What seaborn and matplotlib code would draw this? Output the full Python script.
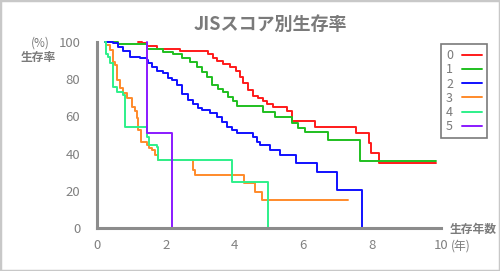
import pandas as pd
import seaborn as sns
from matplotlib import pyplot as plt

# JIS score groups
groups = ['0', '1', '2', '3', '4', '5']
colors = ['#ff1a1a', '#1fbf1f', '#1010ff', '#ff8a2a', '#2ef08a', '#8a1aff']

# survival curves (years, %)
t0 = [1.19, 1.31, 1.45, 1.74, 2.41, 3.23, 3.37, 3.49, 3.66, 3.87, 4.04, 4.16, 4.24, 4.39, 4.53,
      4.68, 4.83, 4.94, 5.12, 5.52, 5.66, 6.34, 7.53, 7.91, 7.97, 8.20, 9.85]
s0 = [100, 99.2, 97.8, 96.2, 95.2, 93.5, 91.4, 89.8, 88.2, 86.6, 84.4, 81.2, 78.0, 74.2, 71.0,
      69.9, 68.3, 66.7, 65.0, 62.9, 57.5, 54.3, 51.1, 45.7, 40.3, 34.9, 34.9]

t1 = [0.23, 0.61, 1.45, 1.92, 2.21, 2.47, 2.70, 2.91, 3.05, 3.20, 3.34, 3.52, 3.66, 3.81, 3.95,
      4.07, 4.83, 5.17, 5.67, 5.84, 6.05, 6.72, 7.65, 9.85]
s1 = [100, 98.9, 96.2, 94.6, 93.5, 91.4, 89.2, 86.6, 83.9, 81.2, 76.9, 74.7, 73.1, 70.4, 68.3,
      65.6, 62.4, 59.7, 56.5, 53.8, 51.6, 47.3, 36.0, 36.0]

t2 = [0.23, 0.47, 0.61, 0.76, 0.96, 1.25, 1.45, 1.48, 1.60, 1.74, 1.92, 2.06, 2.18, 2.33, 2.47,
      2.65, 2.79, 2.94, 3.05, 3.28, 3.49, 3.63, 3.78, 3.92, 4.07, 4.53, 4.65, 4.74, 5.03, 5.32,
      5.78, 6.40, 6.98, 7.70]
s2 = [100, 99.3, 97.5, 95.3, 92.1, 91.2, 90.3, 88.7, 86.6, 84.4, 83.3, 80.6, 79.6, 76.9, 72.0,
      68.8, 66.7, 64.5, 63.4, 61.8, 59.7, 57.0, 54.3, 52.7, 51.1, 48.9, 46.2, 44.6, 41.9, 39.2,
      34.9, 30.1, 20.4, 0]

t3 = [0.29, 0.38, 0.47, 0.52, 0.58, 0.67, 0.76, 0.87, 1.02, 1.10, 1.16, 1.19, 1.28, 1.45, 1.51,
      1.60, 1.69, 1.77, 2.79, 2.85, 4.27, 4.59, 4.80, 7.30]
s3 = [98.4, 95.7, 89.2, 87.6, 79.6, 75.3, 72.6, 69.9, 65.1, 62.9, 59.1, 52.7, 46.2, 44.6, 43.0,
      41.9, 39.2, 36.6, 31.2, 28.5, 24.2, 19.4, 15.1, 15.1]

t4 = [0.23, 0.26, 0.32, 0.38, 0.47, 0.58, 0.76, 0.81, 1.45, 1.51, 1.74, 1.77, 3.92, 4.97]
s4 = [100, 93.5, 91.9, 88.7, 75.8, 73.1, 71.5, 54.3, 48.9, 44.6, 43.5, 36.6, 24.7, 0]

t5 = [1.45, 1.45, 2.18, 2.18]
s5 = [100, 51, 51, 0]

if __name__ == '__main__':
    frames = []
    for g, t, s in zip(groups, [t0, t1, t2, t3, t4, t5], [s0, s1, s2, s3, s4, s5]):
        frames.append(pd.DataFrame({'group': g, 't': t, 's': s}))
    data = pd.concat(frames, ignore_index=True)

    sns.set_style('white')
    plt.rcParams['font.family'] = ['Noto Sans CJK JP', 'DejaVu Sans']

    grey = '#7a7a7a'
    fig = plt.figure(figsize=(5, 2.71), dpi=100)
    ax = fig.add_axes([97 / 500, 1 - 228 / 271, 344 / 500, 186 / 271])

    sns.lineplot(data=data, x='t', y='s', hue='group', palette=colors, estimator=None,
                 sort=False, drawstyle='steps-post', linewidth=1.4, ax=ax, clip_on=False)

    ax.set_xlim(0, 10)
    ax.set_ylim(0, 100)
    ax.set_xticks(range(0, 11, 2))
    ax.set_xticks(range(1, 10, 2), minor=True)
    ax.set_yticks(range(0, 101, 20))
    ax.set_yticks(range(10, 100, 20), minor=True)
    ax.set_xlabel('')
    ax.set_ylabel('')
    ax.tick_params(which='both', direction='out', length=4, width=1.6, color='#8c8c8c',
                   labelcolor='#808080', labelsize=9.5)
    ax.tick_params(axis='y', pad=8)
    ax.tick_params(axis='x', pad=4)
    for side in ['top', 'right']:
        ax.spines[side].set_visible(False)
    for side in ['left', 'bottom']:
        ax.spines[side].set_color('#8c8c8c')
        ax.spines[side].set_linewidth(2.2)

    sns.move_legend(ax, 'upper left', bbox_to_anchor=(441 / 500, 1 - 44 / 271),
                    bbox_transform=fig.transFigure, title=None, frameon=True, fancybox=False,
                    edgecolor=grey, framealpha=1, markerfirst=False, handlelength=1.6,
                    handletextpad=0.7, labelspacing=0.1, borderpad=0.4, borderaxespad=0,
                    fontsize=9, labelcolor=grey)
    ax.get_legend().get_frame().set_linewidth(1.2)

    fig.text(270 / 500, 1 - 24 / 271, 'JISスコア別生存率', ha='center', va='center',
             fontsize=13, fontweight='bold', color=grey)
    fig.text(40 / 500, 1 - 43 / 271, '(%)', ha='center', va='center', fontsize=8.5, color=grey)
    fig.text(38 / 500, 1 - 57 / 271, '生存率', ha='center', va='center', fontsize=8.5,
             fontweight='bold', color=grey)
    fig.text(473 / 500, 1 - 230 / 271, '生存年数', ha='center', va='center', fontsize=8.5,
             fontweight='bold', color=grey)
    fig.text(461 / 500, 1 - 246 / 271, '(年)', ha='center', va='center', fontsize=8.5, color=grey)

    fig.add_artist(plt.Rectangle((0, 0), 1, 1, transform=fig.transFigure, fill=False,
                                 edgecolor='#c8c8c8', linewidth=2.5))

    fig.savefig('out.png', dpi=100)
